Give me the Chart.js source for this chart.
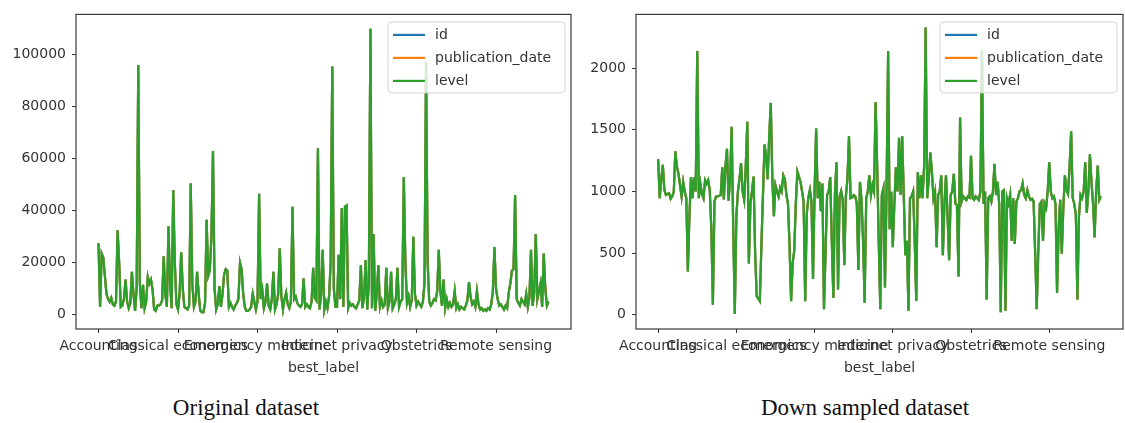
<!DOCTYPE html>
<html>
<head>
<meta charset="utf-8">
<script src="https://cdn.jsdelivr.net/npm/chart.js@4.4.1/dist/chart.umd.min.js"></script>
<style>
  body { margin: 0; background: #fff; width: 1125px; height: 423px; position: relative; overflow: hidden; }
  .panel { position: absolute; top: 0; }
  #leftPanel { left: 0; }
  #rightPanel { left: 560px; }
  .caption {
    position: absolute; top: 395px; line-height: 26px;
    font-family: "Liberation Serif", "Times New Roman", serif; font-size: 23px; color: #111;
    transform: translateX(-50%); white-space: nowrap;
  }
</style>
</head>
<body>
<div class="panel" id="leftPanel"><canvas id="originalChart" width="580" height="385"></canvas></div>
<div class="panel" id="rightPanel"><canvas id="downsampledChart" width="580" height="385"></canvas></div>
<div class="caption" style="left:246px">Original dataset</div>
<div class="caption" style="left:865px">Down sampled dataset</div>

<script>
// counts per best_label (id, publication_date and level give the same count)
const seriesNames = ['id', 'publication_date', 'level'];
const seriesColors = ['#1f77b4', '#ff7f0e', '#2ca02c'];

const xTickPositions = [0, 50, 100, 150, 200, 250];
const xTickLabels = ['Accounting', 'Classical economics', 'Emergency medicine', 'Internet privacy', 'Obstetrics', 'Remote sensing'];

const originalTicks = [0, 20000, 40000, 60000, 80000, 100000];
const downsampledTicks = [0, 500, 1000, 1500, 2000];

const originalCounts = [
    27500, 3000, 23500, 22000, 15000, 8000, 6000, 5000, 6500, 4000,
    3500, 5000, 32500, 20000, 3000, 3500, 6000, 13500, 5000, 2500,
    4500, 16500, 8000, 1500, 10000, 96000, 12000, 2500, 11500, 2500,
    5000, 14500, 12000, 13500, 9500, 2000, 1500, 3500, 3500, 4000,
    5500, 22500, 8000, 3000, 34000, 12000, 2500, 48000, 20000, 4000,
    2000, 8000, 24000, 10000, 3000, 2500, 2000, 3500, 50500, 12000,
    3000, 5000, 16500, 8000, 1500, 1000, 1000, 4500, 36500, 15000,
    17000, 30000, 63000, 10000, 2000, 4000, 11000, 3000, 8000, 15500,
    17500, 17000, 3000, 4500, 3000, 2000, 3500, 4500, 6000, 20000,
    17500, 8000, 3000, 1500, 1500, 2000, 3000, 8000, 5000, 2000,
    5000, 46500, 6000, 9500, 2500, 5000, 12000, 3500, 2000, 6000,
    16500, 2000, 4000, 8000, 25500, 7000, 2000, 6000, 8500, 4000,
    2500, 5000, 41500, 6000, 7000, 4500, 3500, 3000, 4000, 14000,
    3000, 4000, 3000, 2500, 5000, 18000, 6500, 5500, 64000, 2000,
    8000, 25000, 2000, 5000, 2500, 7000, 20000, 95500, 10000, 3000,
    3000, 23000, 6000, 41000, 3000, 41500, 42000, 2500, 4500, 3500,
    4000, 3000, 2500, 4000, 5500, 19000, 2500, 7000, 21000, 2000,
    12000, 110000, 2500, 31000, 1500, 8000, 19000, 3000, 5500, 3000,
    4000, 18000, 2500, 5000, 16500, 2500, 4000, 6000, 18000, 3000,
    5000, 6000, 53000, 20000, 4500, 7000, 3000, 5500, 30000, 8000,
    3500, 5000, 4000, 3000, 5000, 12000, 97000, 20000, 5000, 3500,
    4500, 6000, 5500, 9000, 25000, 9000, 3500, 13500, 2500, 6000,
    3000, 4500, 3000, 4000, 9000, 2500, 4000, 2000, 3000, 2500,
    2000, 3500, 5500, 12500, 7000, 4000, 5000, 3000, 9000, 4000,
    2000, 2500, 1500, 2000, 1500, 2500, 2000, 4000, 9000, 26000,
    10000, 6000, 3500, 4000, 3000, 2000, 3500, 2500, 8500, 12000,
    17000, 17500, 46000, 6000, 4500, 3500, 6000, 5000, 4000, 8000,
    3000, 6500, 25000, 3500, 8000, 31000, 6000, 9000, 12000, 3000,
    23500, 10000, 3500, 5000
];

const downsampledCounts = [
    1262, 945, 1100, 1215, 1011, 971, 980, 985, 940, 960,
    998, 1325, 1200, 1143, 1050, 958, 1077, 1000, 945, 350,
    800, 1117, 945, 1117, 1000, 2140, 945, 1064, 980, 945,
    1090, 1060, 1090, 1011, 700, 80, 918, 958, 960, 965,
    971, 1196, 935, 1200, 1345, 925, 1100, 1525, 700, 5,
    800, 1000, 1100, 1230, 1000, 930, 1200, 1565, 415, 900,
    1000, 1120, 500, 150, 130, 110, 560, 970, 1380, 1290,
    1100, 1450, 1718, 1100, 800, 1050, 1000, 958, 1030, 1000,
    1130, 1100, 971, 900, 560, 110, 420, 520, 900, 1160,
    1120, 1077, 1000, 918, 110, 813, 950, 1011, 918, 290,
    1000, 1510, 945, 1077, 839, 1064, 45, 500, 971, 1000,
    1117, 600, 138, 971, 1236, 204, 958, 1003, 930, 402,
    958, 1100, 1448, 945, 950, 970, 960, 900, 363, 1077,
    932, 600, 98, 945, 1000, 1130, 971, 1051, 1000, 1726,
    1210, 600, 45, 971, 1024, 220, 1000, 2136, 693, 998,
    548, 900, 1196, 1000, 1435, 971, 1448, 971, 482, 600,
    32, 945, 960, 1000, 600, 111, 1157, 945, 1130, 945,
    1200, 2330, 945, 1100, 1316, 1157, 945, 1000, 548, 971,
    1000, 1130, 482, 900, 1130, 800, 442, 971, 1000, 1143,
    900, 890, 310, 1600, 918, 960, 945, 930, 960, 950,
    1289, 945, 932, 960, 945, 930, 1000, 2150, 900, 1000,
    124, 945, 960, 918, 1000, 1223, 971, 1077, 900, 19,
    1000, 1011, 32, 945, 900, 971, 600, 945, 574, 918,
    945, 1000, 1011, 1064, 971, 945, 1011, 960, 932, 940,
    920, 500, 45, 521, 900, 918, 600, 900, 866, 1000,
    1236, 998, 945, 960, 900, 177, 700, 932, 495, 866,
    1130, 1011, 980, 1200, 1488, 945, 900, 813, 124, 800,
    971, 945, 1000, 1236, 826, 1000, 1302, 1077, 900, 627,
    1000, 1210, 932, 960
];

Chart.defaults.font.family = '"DejaVu Sans", sans-serif';
Chart.defaults.font.size = 14;
Chart.defaults.color = '#333';

// matplotlib style legend, drawn inside the axes (upper right)
const innerLegend = {
    id: 'innerLegend',
    afterDatasetsDraw(chart) {
        const ctx = chart.ctx;
        const area = chart.chartArea;
        const w = 177, h = 71;
        const x0 = area.right - 6 - w;
        const y0 = area.top + 7.5;
        ctx.save();
        ctx.beginPath();
        ctx.roundRect(x0, y0, w, h, 4);
        ctx.fillStyle = 'rgba(255,255,255,0.8)';
        ctx.fill();
        ctx.strokeStyle = '#d4d4d4';
        ctx.lineWidth = 1;
        ctx.stroke();
        ctx.font = '14px "DejaVu Sans"';
        ctx.textBaseline = 'middle';
        chart.data.datasets.forEach((ds, i) => {
            const y = y0 + 13 + i * 23;
            ctx.strokeStyle = ds.borderColor;
            ctx.lineWidth = 2.2;
            ctx.beginPath();
            ctx.moveTo(x0 + 5, y);
            ctx.lineTo(x0 + 37, y);
            ctx.stroke();
            ctx.fillStyle = '#333';
            ctx.fillText(ds.label, x0 + 47, y);
        });
        ctx.restore();
    }
};

// box around the plotting area
const axesFrame = {
    id: 'axesFrame',
    afterDraw(chart) {
        const ctx = chart.ctx;
        const a = chart.chartArea;
        ctx.save();
        ctx.strokeStyle = '#3a3a3a';
        ctx.lineWidth = 1.2;
        ctx.strokeRect(a.left, a.top, a.right - a.left, a.bottom - a.top);
        ctx.restore();
    }
};

function buildChart(canvasId, counts, yMin, yMax, yTicks, padRight) {
    const n = counts.length;
    const ctx = document.getElementById(canvasId).getContext('2d');

    new Chart(ctx, {
        type: 'line',
        data: {
            labels: counts.map((_, i) => i),
            datasets: seriesNames.map((name, k) => ({
                label: name,
                data: counts,
                borderColor: seriesColors[k],
                backgroundColor: seriesColors[k],
                borderWidth: 2.2,
                pointRadius: 0,
                tension: 0,
                order: seriesNames.length - k
            }))
        },
        options: {
            responsive: false,
            animation: false,
            layout: { padding: { top: 7, right: padRight, bottom: 8, left: 0 } },
            plugins: {
                legend: { display: false },
                tooltip: { enabled: false }
            },
            scales: {
                x: {
                    type: 'linear',
                    min: -0.05 * (n - 1),
                    max: 1.05 * (n - 1),
                    afterBuildTicks: (scale) => { scale.ticks = xTickPositions.map(v => ({ value: v })); },
                    afterFit: (scale) => { scale.height = 48; },
                    ticks: {
                        autoSkip: false,
                        maxRotation: 0,
                        minRotation: 0,
                        padding: 5,
                        callback: (v) => xTickLabels[xTickPositions.indexOf(v)]
                    },
                    grid: { drawOnChartArea: false, drawTicks: true, tickLength: 4, color: '#333' },
                    border: { display: false },
                    title: { display: true, text: 'best_label', padding: { top: 2, bottom: 0 } }
                },
                y: {
                    min: yMin,
                    max: yMax,
                    afterBuildTicks: (scale) => { scale.ticks = yTicks.map(v => ({ value: v })); },
                    afterFit: (scale) => { scale.width = 76; },
                    ticks: {
                        padding: 6,
                        callback: (v) => String(v)
                    },
                    grid: { drawOnChartArea: false, drawTicks: true, tickLength: 4, color: '#333' },
                    border: { display: false }
                }
            }
        },
        plugins: [innerLegend, axesFrame]
    });
}

buildChart('originalChart', originalCounts, -5500, 115500, originalTicks, 9);
buildChart('downsampledChart', downsampledCounts, -116, 2436, downsampledTicks, 17);
</script>
</body>
</html>
